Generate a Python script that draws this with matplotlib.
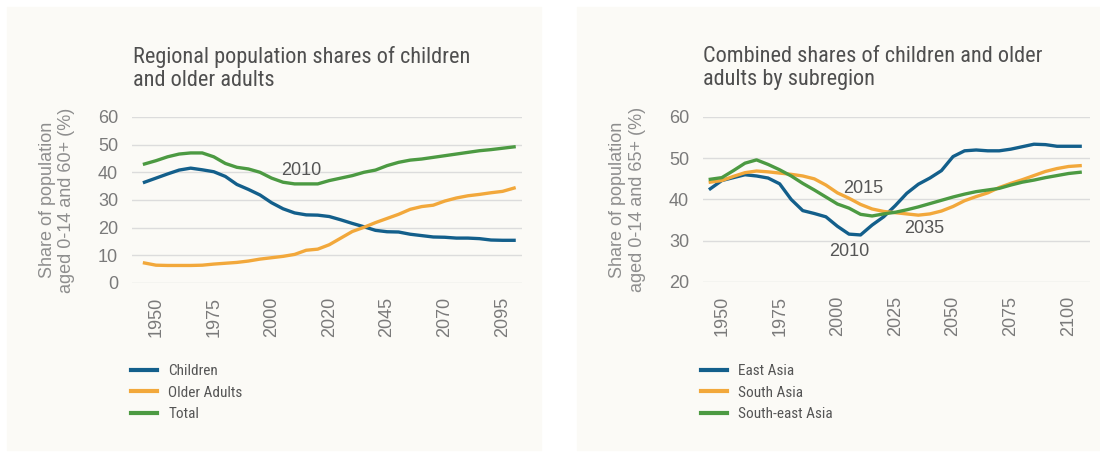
import matplotlib
matplotlib.use("Agg")
import matplotlib.pyplot as plt
from matplotlib import font_manager
from matplotlib.patches import Rectangle

# pick a narrow font for titles and legends if one is installed
names = set(f.name for f in font_manager.fontManager.ttflist)
narrow = 'DejaVu Sans'
for cand in ['Roboto Condensed', 'Liberation Sans Narrow', 'Open Sans Condensed', 'Noto Sans Condensed']:
    if cand in names:
        narrow = cand
        break
plain = 'Liberation Sans'

# x positions (chart years, 5-year steps)
years = [1945, 1950, 1955, 1960, 1965, 1970, 1975, 1980, 1985, 1990, 1995,
         2000, 2005, 2010, 2015, 2020, 2025, 2030, 2035, 2040, 2045, 2050,
         2055, 2060, 2065, 2070, 2075, 2080, 2085, 2090, 2095, 2100, 2105]

# left chart: regional shares
children = [36.4, 37.9, 39.4, 40.8, 41.5, 40.9, 40.2, 38.5, 35.6, 33.8, 31.8,
            29.0, 26.8, 25.3, 24.6, 24.5, 24.0, 22.8, 21.5, 20.3, 19.0, 18.5,
            18.4, 17.6, 17.1, 16.6, 16.5, 16.2, 16.2, 16.0, 15.5, 15.4, 15.4]
older = [7.2, 6.4, 6.3, 6.3, 6.3, 6.4, 6.8, 7.1, 7.4, 7.9, 8.6,
         9.1, 9.6, 10.3, 11.8, 12.2, 13.8, 16.2, 18.6, 20.1, 21.8, 23.3,
         24.8, 26.6, 27.6, 28.1, 29.6, 30.7, 31.5, 32.0, 32.6, 33.1, 34.3]
total = [43.0, 44.2, 45.6, 46.6, 47.0, 47.0, 45.6, 43.2, 41.8, 41.2, 40.0,
         37.9, 36.4, 35.8, 35.8, 35.8, 37.0, 37.9, 38.8, 40.0, 40.8, 42.4,
         43.6, 44.4, 44.8, 45.4, 46.0, 46.6, 47.2, 47.8, 48.2, 48.7, 49.2]

# right chart: subregions
east_asia = [42.6, 44.6, 45.3, 46.0, 45.7, 45.2, 43.8, 40.0, 37.3, 36.6, 35.8,
             33.5, 31.6, 31.4, 33.8, 35.8, 38.5, 41.5, 43.7, 45.2, 47.0, 50.4,
             51.8, 52.0, 51.8, 51.8, 52.2, 52.8, 53.4, 53.3, 52.9, 52.9, 52.9]
south_asia = [44.2, 44.6, 45.6, 46.5, 46.9, 46.7, 46.4, 46.1, 45.7, 45.0, 43.5,
              41.6, 40.3, 38.8, 37.7, 37.1, 36.8, 36.5, 36.2, 36.5, 37.2, 38.3,
              39.7, 40.7, 41.6, 42.9, 43.9, 44.8, 45.8, 46.8, 47.5, 48.0, 48.2]
se_asia = [44.9, 45.3, 47.0, 48.8, 49.6, 48.5, 47.2, 45.7, 43.9, 42.3, 40.6,
           38.9, 37.9, 36.4, 36.0, 36.5, 36.9, 37.5, 38.2, 39.0, 39.8, 40.6,
           41.3, 41.9, 42.3, 42.7, 43.5, 44.2, 44.7, 45.3, 45.8, 46.3, 46.6]

tick_pos = [1950, 1975, 2000, 2025, 2050, 2075, 2100]
left_ticklabels = ['1950', '1975', '2000', '2020', '2045', '2070', '2095']
right_ticklabels = ['1950', '1975', '2000', '2025', '2050', '2075', '2100']

blue = '#135f8b'
orange = '#f2a83b'
green = '#4c9a42'
panel = '#fbfaf6'
grid = '#dcdcdc'
tickc = '#7a7a7a'
titlec = '#4f4f4f'

fig = plt.figure(figsize=(11, 4.57), dpi=100)
fig.patch.set_facecolor('white')

# light background panels
fig.patches.append(Rectangle((7 / 1100, 7 / 457), 534 / 1100, 443 / 457,
                             transform=fig.transFigure, color=panel, zorder=-5))
fig.patches.append(Rectangle((577 / 1100, 7 / 457), 523 / 1100, 443 / 457,
                             transform=fig.transFigure, color=panel, zorder=-5))

ax1 = fig.add_axes([0.12, 0.381, 0.3545, 0.363])
ax2 = fig.add_axes([0.639, 0.383, 0.352, 0.361])
ax1.set_zorder(2)
ax2.set_zorder(2)


def style(ax, ylim, yticks, xlim, xlabels, ylabel, lab_x):
    ax.patch.set_visible(False)
    for s in ax.spines.values():
        s.set_visible(False)
    ax.set_ylim(*ylim)
    ax.set_xlim(*xlim)
    ax.set_yticks(yticks)
    ax.set_xticks(tick_pos)
    ax.set_xticklabels(xlabels, rotation=90)
    ax.tick_params(length=0, colors=tickc, labelsize=13, labelfontfamily=plain)
    ax.tick_params(axis='x', pad=10)
    ax.tick_params(axis='y', pad=10)
    ax.grid(axis='y', color=grid, linewidth=1)
    ax.set_axisbelow(True)
    ax.set_ylabel(ylabel, color='#8e8e8e', fontsize=13, family=plain, linespacing=1.2)
    ax.yaxis.set_label_coords(lab_x, 0.5)


style(ax1, (0, 60), [0, 10, 20, 30, 40, 50, 60], (1939.6, 2108.4), left_ticklabels,
      'Share of population\naged 0-14 and 60+ (%)', -0.145)
style(ax2, (20, 60), [20, 30, 40, 50, 60], (1941.8, 2109.3), right_ticklabels,
      'Share of population\naged 0-14 and 65+ (%)', -0.148)

lw = 2.4
ax1.plot(years, children, color=blue, lw=lw, label='Children')
ax1.plot(years, older, color=orange, lw=lw, label='Older Adults')
ax1.plot(years, total, color=green, lw=lw, label='Total')

aprops = dict(color='#555555', fontsize=13, family=plain, ha='center', va='center')
ax1.text(2013, 40.8, '2010', **aprops)

ax2.plot(years, east_asia, color=blue, lw=lw, label='East Asia')
ax2.plot(years, south_asia, color=orange, lw=lw, label='South Asia')
ax2.plot(years, se_asia, color=green, lw=lw, label='South-east Asia')
ax2.text(2011, 42.6, '2015', **aprops)
ax2.text(2037.5, 33.0, '2035', **aprops)
ax2.text(2005, 27.4, '2010', **aprops)

# titles
tprops = dict(fontsize=16, family=narrow, fontstretch='condensed', color=titlec,
              va='top', ha='left', linespacing=1.15)
fig.text(133 / 1100, 1 - 46 / 457, 'Regional population shares of children\nand older adults', **tprops)
fig.text(703 / 1100, 1 - 46 / 457, 'Combined shares of children and older\nadults by subregion', **tprops)

# legends below the axes
for ax, x0 in [(ax1, 131), (ax2, 701)]:
    leg = ax.legend(loc='upper left', bbox_to_anchor=(x0 / 1100, 1 - 364 / 457),
                    bbox_transform=fig.transFigure, frameon=False,
                    prop={'family': narrow, 'size': 11, 'stretch': 'condensed'},
                    handlelength=1.7, handletextpad=0.75, labelspacing=0.5,
                    borderpad=0, borderaxespad=0)
    for t in leg.get_texts():
        t.set_color('#555555')
    for h in leg.get_lines():
        h.set_linewidth(3)

fig.savefig('out.png', dpi=100, facecolor='white')
